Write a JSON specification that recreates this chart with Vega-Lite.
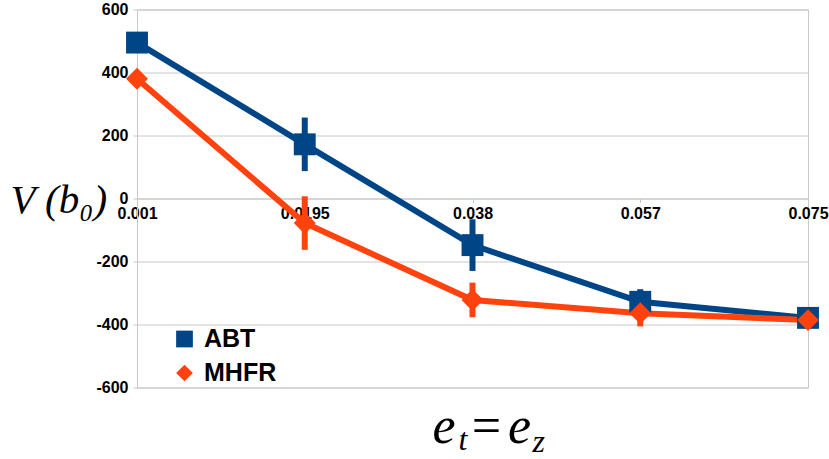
{
  "$schema": "https://vega.github.io/schema/vega-lite/v6.json",
  "width": 671,
  "height": 378,
  "autosize": {"type": "none"},
  "padding": {"left": 137, "top": 9.5, "right": 21, "bottom": 71.5},
  "background": "white",
  "config": {
    "view": {"stroke": "#c8c8c8", "strokeWidth": 1},
    "font": "Liberation Sans",
    "legend": {
      "orient": "none",
      "legendX": 35,
      "legendY": 317,
      "padding": 0,
      "symbolSize": 280,
      "symbolStrokeWidth": 0,
      "labelFont": "Liberation Sans",
      "labelFontSize": 25,
      "labelFontWeight": "bold",
      "labelColor": "black",
      "labelOffset": 7,
      "rowPadding": 8
    }
  },
  "data": {
    "values": [
      {"et": "0.001", "series": "ABT", "v": 495, "lo": 495, "hi": 495},
      {"et": "0.0195", "series": "ABT", "v": 172, "lo": 87, "hi": 257},
      {"et": "0.038", "series": "ABT", "v": -148, "lo": -230, "hi": -66},
      {"et": "0.057", "series": "ABT", "v": -328, "lo": -368, "hi": -288},
      {"et": "0.075", "series": "ABT", "v": -379, "lo": -379, "hi": -379},
      {"et": "0.001", "series": "MHFR", "v": 380, "lo": 380, "hi": 380},
      {"et": "0.0195", "series": "MHFR", "v": -78, "lo": -163, "hi": 7},
      {"et": "0.038", "series": "MHFR", "v": -322, "lo": -377, "hi": -267},
      {"et": "0.057", "series": "MHFR", "v": -364, "lo": -406, "hi": -322},
      {"et": "0.075", "series": "MHFR", "v": -386, "lo": -386, "hi": -386}
    ]
  },
  "resolve": {"axis": {"x": "independent", "y": "independent"}},
  "layer": [
    {
      "mark": {"type": "line", "strokeWidth": 6},
      "encoding": {
        "x": {
          "field": "et", "type": "ordinal",
          "sort": ["0.001", "0.0195", "0.038", "0.057", "0.075"],
          "scale": {"type": "point", "padding": 0},
          "axis": {
            "orient": "bottom", "offset": -189,
            "labelAngle": 0, "labelFont": "Liberation Sans", "labelFontSize": 16, "labelFontWeight": "bold", "labelColor": "black",
            "labelPadding": 3, "domainColor": "#c8c8c8", "tickColor": "#c8c8c8", "tickSize": 4, "grid": false,
            "title": "e =\u200ae", "titleFont": "Liberation Serif", "titleFontStyle": "italic", "titleFontWeight": "normal",
            "titleFontSize": 52, "titleColor": "black", "titleAlign": "left", "titleBaseline": "alphabetic",
            "titleAnchor": "start", "titleX": 295, "titleY": 244
          }
        },
        "y": {
          "field": "v", "type": "quantitative",
          "scale": {"domain": [-600, 600], "nice": false, "zero": false},
          "axis": {
            "orient": "left", "values": [-600, -400, -200, 0, 200, 400, 600],
            "labelExpr": "toString(datum.value)",
            "labelFont": "Liberation Sans", "labelFontSize": 16, "labelFontWeight": "bold", "labelColor": "black",
            "labelPadding": 5, "tickSize": 4, "tickColor": "#c8c8c8", "domainColor": "#c8c8c8",
            "grid": true, "gridColor": "#c8c8c8",
            "title": "V (b₀)", "titleFont": "Liberation Serif", "titleFontStyle": "italic", "titleFontWeight": "normal",
            "titleFontSize": 41, "titleColor": "black", "titleAngle": 0, "titleAlign": "left", "titleBaseline": "alphabetic",
            "titleAnchor": "start", "titleX": -127, "titleY": 203
          }
        },
        "color": {
          "field": "series", "type": "nominal", "title": null,
          "scale": {"domain": ["ABT", "MHFR"], "range": ["#004586", "#ff420e"]}
        }
      }
    },
    {
      "mark": {"type": "rule", "strokeWidth": 6},
      "encoding": {
        "x": {
          "field": "et", "type": "ordinal",
          "sort": ["0.001", "0.0195", "0.038", "0.057", "0.075"],
          "scale": {"type": "point", "padding": 0},
          "axis": {
            "orient": "top", "labels": false, "ticks": false, "domain": false, "grid": false,
            "title": "t", "titleFont": "Liberation Serif", "titleFontStyle": "italic", "titleFontWeight": "normal",
            "titleFontSize": 32, "titleColor": "black", "titleAlign": "left", "titleBaseline": "alphabetic",
            "titleAnchor": "start", "titleX": 321, "titleY": 440
          }
        },
        "y": {
          "field": "lo", "type": "quantitative",
          "scale": {"domain": [-600, 600], "nice": false, "zero": false},
          "axis": {
            "orient": "right", "labels": false, "ticks": false, "domain": false, "grid": false,
            "title": "z", "titleFont": "Liberation Serif", "titleFontStyle": "italic", "titleFontWeight": "normal",
            "titleFontSize": 32, "titleColor": "black", "titleAngle": 0, "titleAlign": "left", "titleBaseline": "alphabetic",
            "titleAnchor": "start", "titleX": -276, "titleY": 442
          }
        },
        "y2": {"field": "hi"},
        "color": {"field": "series", "type": "nominal", "title": null}
      }
    },
    {
      "mark": {"type": "point", "filled": true, "opacity": 1, "size": 480},
      "encoding": {
        "x": {
          "field": "et", "type": "ordinal",
          "sort": ["0.001", "0.0195", "0.038", "0.057", "0.075"],
          "scale": {"type": "point", "padding": 0},
          "axis": null
        },
        "y": {
          "field": "v", "type": "quantitative",
          "scale": {"domain": [-600, 600], "nice": false, "zero": false},
          "axis": null
        },
        "color": {"field": "series", "type": "nominal", "title": null},
        "shape": {
          "field": "series", "type": "nominal", "title": null,
          "scale": {"domain": ["ABT", "MHFR"], "range": ["square", "diamond"]}
        }
      }
    }
  ]
}
